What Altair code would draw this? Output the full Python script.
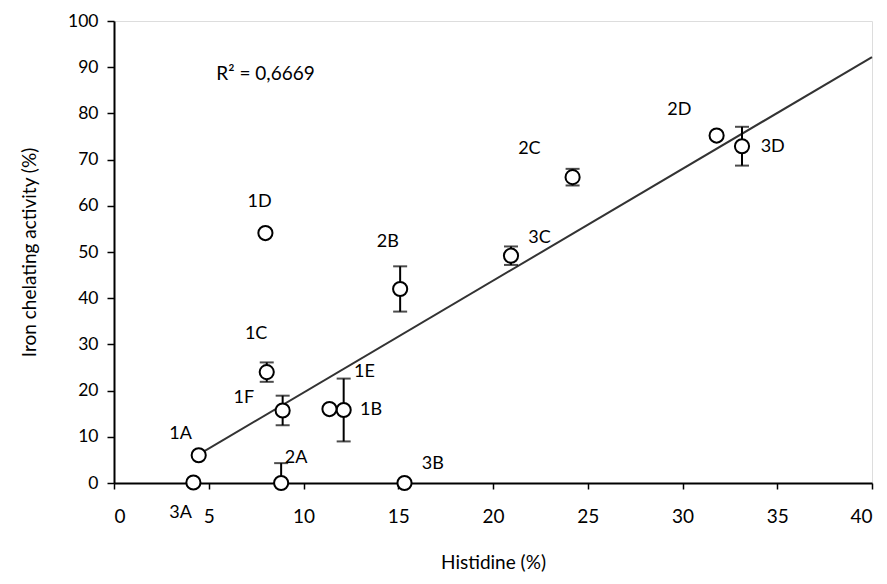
import altair as alt
import pandas as pd

# Sample data
names = ["1A", "1B", "1C", "1D", "1E", "1F", "2A", "2B", "2C", "2D", "3A", "3B", "3C", "3D"]
histidine = [4.47, 12.12, 8.06, 7.99, 11.37, 8.90, 8.82, 15.10, 24.20, 31.80, 4.19, 15.33, 20.95, 33.14]
chelating = [6.0, 15.8, 24.0, 54.1, 16.0, 15.7, 0.0, 42.0, 66.2, 75.2, 0.1, 0.0, 49.2, 72.9]
err_low = [6.0, 9.0, 21.9, 54.1, 16.0, 12.5, 0.0, 37.1, 64.4, 75.2, 0.1, 0.0, 47.2, 68.7]
err_high = [6.0, 22.6, 26.1, 54.1, 16.0, 18.9, 4.3, 46.9, 68.0, 75.2, 0.1, 0.0, 51.2, 77.1]
has_err = [False, True, True, False, False, True, True, True, True, False, False, False, True, True]
label_x = [3.51, 13.57, 7.50, 7.68, 13.22, 6.85, 9.61, 14.45, 21.92, 29.83, 3.51, 16.82, 22.45, 34.76]
label_y = [10.6, 15.8, 32.3, 60.8, 24.0, 18.5, 5.5, 52.1, 72.4, 80.7, -6.4, 4.1, 53.1, 72.8]

# Linear trendline endpoints
trend_x = [4.19, 40.0]
trend_y = [5.5, 92.2]

r2_text = ["R² = 0,6669"]
r2_x = [5.4]
r2_y = [88.5]

x_ticks = [0, 5, 10, 15, 20, 25, 30, 35, 40]
y_ticks = [0, 10, 20, 30, 40, 50, 60, 70, 80, 90, 100]

df = pd.DataFrame({
    "name": names, "x": histidine, "y": chelating,
    "lo": err_low, "hi": err_high, "err": has_err,
    "lx": label_x, "ly": label_y,
})
df_err = df[df["err"]]
df_trend = pd.DataFrame({"x": trend_x, "y": trend_y})
df_r2 = pd.DataFrame({"t": r2_text, "x": r2_x, "y": r2_y})

FONT = "Lato"

xscale = alt.Scale(domain=[0, 40], nice=False, zero=False)
yscale = alt.Scale(domain=[0, 100], nice=False, zero=False)

xaxis = alt.Axis(values=x_ticks, title="Histidine (%)", grid=False,
                 domainColor="#000", domainWidth=2, tickColor="#000", tickWidth=1.5,
                 tickSize=6, labelFont=FONT, labelFontSize=19, labelColor="#000",
                 labelPadding=18, titleFont=FONT, titleFontSize=19,
                 titleFontWeight="normal", titleColor="#000", titlePadding=27)
yaxis = alt.Axis(values=y_ticks, title="Iron chelating activity (%)", grid=False,
                 domainColor="#000", domainWidth=2, tickColor="#000", tickWidth=1.5,
                 tickSize=7, labelFont=FONT, labelFontSize=17.5, labelColor="#000",
                 labelPadding=9, titleFont=FONT, titleFontSize=19,
                 titleFontWeight="normal", titleColor="#000", titlePadding=28)

X = alt.X("x:Q", scale=xscale, axis=xaxis)
Y = alt.Y("y:Q", scale=yscale, axis=yaxis)

trend = alt.Chart(df_trend).mark_line(color="#333", strokeWidth=2).encode(x=X, y=Y)

bars = alt.Chart(df_err).mark_rule(color="#000", strokeWidth=2).encode(
    x=alt.X("x:Q", scale=xscale), y=alt.Y("lo:Q", scale=yscale), y2="hi:Q")
cap_lo = alt.Chart(df_err).mark_tick(color="#000", thickness=2, size=14, orient="horizontal").encode(
    x=alt.X("x:Q", scale=xscale), y=alt.Y("lo:Q", scale=yscale))
cap_hi = alt.Chart(df_err).mark_tick(color="#000", thickness=2, size=14, orient="horizontal").encode(
    x=alt.X("x:Q", scale=xscale), y=alt.Y("hi:Q", scale=yscale))

points = alt.Chart(df).mark_point(shape="circle", filled=False, fill="#fff", fillOpacity=1,
                                  stroke="#000", strokeWidth=2, size=200, opacity=1).encode(x=X, y=Y)

labels = alt.Chart(df).mark_text(font=FONT, fontSize=18, color="#000").encode(
    x=alt.X("lx:Q", scale=xscale), y=alt.Y("ly:Q", scale=yscale), text="name:N")

r2 = alt.Chart(df_r2).mark_text(font=FONT, fontSize=19, color="#000", align="left").encode(
    x=alt.X("x:Q", scale=xscale), y=alt.Y("y:Q", scale=yscale), text="t:N")

chart = alt.layer(trend, bars, cap_lo, cap_hi, points, labels, r2).properties(
    width=758, height=462,
    autosize=alt.AutoSizeParams(type="none"),
    padding={"left": 106, "top": 13, "right": 5, "bottom": 99},
).configure_view(stroke="#000", strokeWidth=2).configure(background="#fff")

chart.save("out.html", embed_options={"renderer": "svg", "actions": False})
